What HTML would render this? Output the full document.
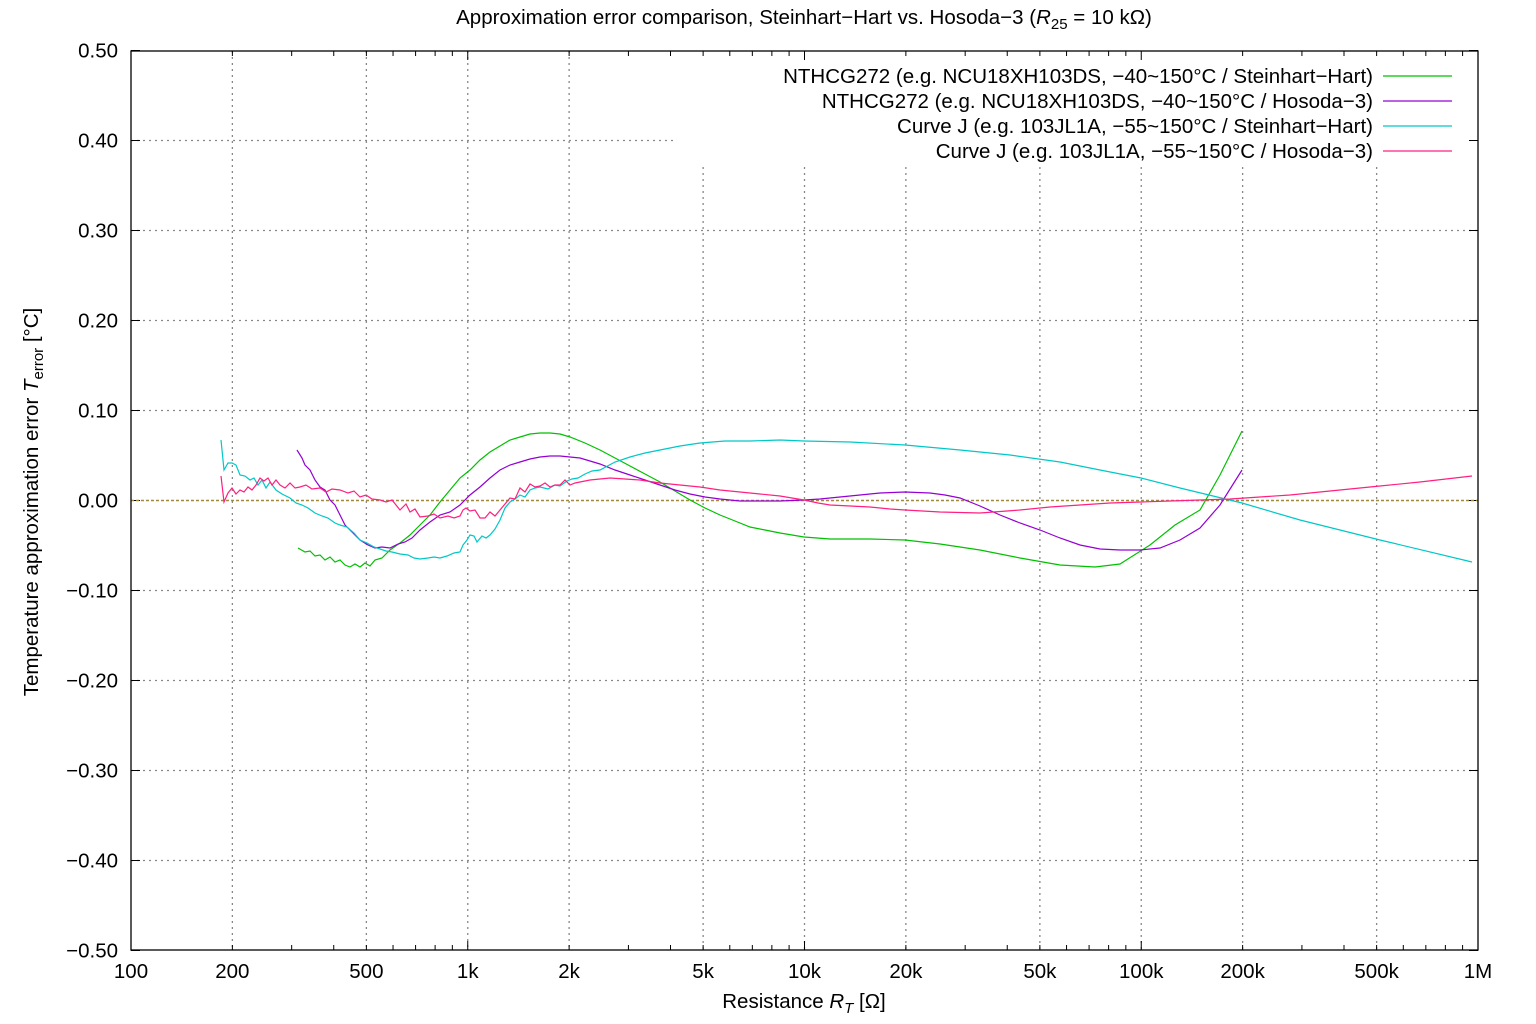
<!DOCTYPE html>
<html><head><meta charset="utf-8"><style>
html,body{margin:0;padding:0;background:#fff;}
svg{display:block;font-family:"Liberation Sans",sans-serif;}
</style></head><body>
<svg id="s" width="1536" height="1024" xmlns="http://www.w3.org/2000/svg">
<rect width="1536" height="1024" fill="#fff"/>
<g id="grid" stroke="#888" stroke-width="1.3" stroke-dasharray="2,4"></g>
<g id="ticks" stroke="#000" stroke-width="1"></g>
<g id="lab" font-size="20.5" fill="#000"></g>
<line x1="131" y1="500.5" x2="1478" y2="500.5" stroke="#a08a40" stroke-width="1.5" stroke-dasharray="3,2"/>
<g fill="none" stroke-width="1.2">
<polyline stroke="#00c000" points="298,548 305,552 310,551 315,556 320,555 325,560 330,557 335,562 340,560 345,565 350,567 355,564 360,567 365,563 370,566 375,560 382,558 390,550 400,543 410,535 420,525 430,515 440,502 450,490 460,478 470,470 480,460 490,452 500,446 510,440 520,437 530,434 540,433 550,433 560,434 570,437 585,443 600,450 615,458 630,466 645,474 660,482 675,491 690,500 705,508 720,515 735,521 750,527 765,530 780,533 804,537 830,539 870,539 905,540 940,544 980,550 1020,558 1060,565 1095,567 1120,564 1150,545 1175,525 1200,510 1220,475 1242,431"/>
<polyline stroke="#9400d3" points="297,450 302,458 305,465 310,470 315,480 320,487 325,490 330,500 335,505 340,515 345,525 352,532 360,540 368,545 375,548 382,547 390,548 398,544 405,542 412,538 420,530 430,522 440,515 450,512 460,505 470,495 480,487 490,478 500,470 510,465 520,462 530,459 540,457 550,456 560,456 570,457 580,458 590,461 600,464 615,470 630,475 645,480 660,485 675,490 690,494 705,497 720,499 740,501 760,501 780,501 804,500 820,499 840,497 860,495 880,493 905,492 930,493 945,495 960,498 980,506 1000,515 1020,523 1040,530 1060,538 1080,545 1100,549 1120,550 1140,550 1160,548 1180,540 1200,528 1220,505 1242,470"/>
<polyline stroke="#00c8c8" points="221,440 224,470 228,463 232,463 236,465 240,475 245,476 250,480 254,478 258,485 262,480 266,488 270,482 276,490 282,494 290,498 296,503 302,505 308,508 315,513 322,516 328,518 335,523 340,525 347,527 354,533 360,540 367,543 374,547 380,549 386,551 392,552 400,554 408,555 414,558 420,559 428,558 434,557 440,558 447,556 454,553 460,552 463,545 467,540 470,535 474,536 477,542 482,536 486,538 490,535 495,529 500,520 505,508 510,502 515,499 520,495 525,497 530,490 535,488 540,487 548,489 555,485 560,486 567,481 572,479 578,478 585,474 592,471 600,470 615,462 630,457 645,453 660,450 680,446 700,443 725,441 750,441 780,440 804,441 850,442 905,445 960,450 1010,455 1060,462 1100,470 1141,478 1180,488 1242,503 1300,520 1380,540 1472,562"/>
<polyline stroke="#ff2080" points="221,476 224,502 228,493 232,488 236,494 240,490 244,492 248,487 252,490 256,485 260,478 264,481 268,478 272,485 276,480 280,485 285,488 290,483 295,488 300,487 306,485 312,489 320,488 326,492 332,489 340,490 348,493 354,491 360,497 366,495 372,499 380,500 386,502 392,500 400,510 406,504 410,512 415,509 420,517 428,516 434,514 440,518 448,516 454,518 460,516 463,510 466,508 470,511 475,510 480,518 485,518 490,512 495,516 500,510 505,504 510,498 515,499 520,488 525,492 530,484 535,487 540,486 545,483 550,487 555,485 560,485 565,480 570,485 575,483 580,482 590,480 600,479 610,478 625,479 640,480 660,483 680,485 700,487 720,490 740,492 760,494 780,496 804,500 818,503 830,505 850,506 870,507 890,509 905,510 940,512 980,513 1020,510 1050,507 1080,505 1110,503 1141,502 1170,501 1200,500 1230,499 1260,497 1290,495 1320,492 1350,489 1380,486 1420,482 1472,476"/>
</g>
<rect x="131" y="51" width="1347" height="899" fill="none" stroke="#000" stroke-width="1.3"/>
<g font-size="20.5" text-anchor="end">
<text x="1373" y="83">NTHCG272 (e.g. NCU18XH103DS, −40~150°C / Steinhart−Hart)</text>
<text x="1373" y="108">NTHCG272 (e.g. NCU18XH103DS, −40~150°C / Hosoda−3)</text>
<text x="1373" y="133">Curve J (e.g. 103JL1A, −55~150°C / Steinhart−Hart)</text>
<text x="1373" y="158">Curve J (e.g. 103JL1A, −55~150°C / Hosoda−3)</text>
</g>
<g stroke-width="1.2">
<line x1="1383" y1="76" x2="1452" y2="76" stroke="#00c000"/>
<line x1="1383" y1="101" x2="1452" y2="101" stroke="#9400d3"/>
<line x1="1383" y1="126" x2="1452" y2="126" stroke="#00c8c8"/>
<line x1="1383" y1="151" x2="1452" y2="151" stroke="#ff2080"/>
</g>
<text x="804" y="24" font-size="20.5" text-anchor="middle">Approximation error comparison, Steinhart−Hart vs. Hosoda−3 (<tspan font-style="italic">R</tspan><tspan font-size="15" dy="5">25</tspan><tspan dy="-5"> = 10 kΩ)</tspan></text>
<text x="804" y="1008" font-size="20.5" text-anchor="middle">Resistance <tspan font-style="italic">R</tspan><tspan font-size="15" dy="5" font-style="italic">T</tspan><tspan dy="-5"> [Ω]</tspan></text>
<text transform="translate(38,502) rotate(-90)" font-size="20.5" text-anchor="middle">Temperature approximation error <tspan font-style="italic">T</tspan><tspan font-size="15" dy="5">error</tspan><tspan dy="-5"> [°C]</tspan></text>
</svg>
<script>
var ns="http://www.w3.org/2000/svg";
function el(p,t,a,txt){var e=document.createElementNS(ns,t);for(var k in a)e.setAttribute(k,a[k]);if(txt!=null)e.textContent=txt;document.getElementById(p).appendChild(e);}
function X(v){return 131+336.75*Math.log10(v/100);}
for(var i=-4;i<=4;i++){var y=500.5-i*90;var x2=(i==4)?677:1478;if(i!=0)el("grid","line",{x1:131,y1:y,x2:x2,y2:y});}
for(var i=-5;i<=5;i++){var y=500.5-i*90;var v=(i/10).toFixed(2);if(i<0)v="−"+(-i/10).toFixed(2);
 el("lab","text",{x:118,y:y+7,"text-anchor":"end"},v);
 el("ticks","line",{x1:131,y1:y,x2:140,y2:y});el("ticks","line",{x1:1469,y1:y,x2:1478,y2:y});}
var gl=[200,500,1000,2000,5000,10000,20000,50000,100000,200000,500000];
gl.forEach(function(v){var x=X(v);el("grid","line",{x1:x,y1:x<677?51:167,x2:x,y2:950});});
var labs={100:"100",200:"200",500:"500",1000:"1k",2000:"2k",5000:"5k",10000:"10k",20000:"20k",50000:"50k",100000:"100k",200000:"200k",500000:"500k",1000000:"1M"};
for(var d=100;d<1e6;d*=10){for(var m=1;m<10;m++){var v=d*m,x=X(v);var L=(m==1)?9:5;
 el("ticks","line",{x1:x,y1:950,x2:x,y2:950-L});el("ticks","line",{x1:x,y1:51,x2:x,y2:51+L});}}
for(var k in labs){el("lab","text",{x:X(+k),y:978,"text-anchor":"middle"},labs[k]);}
</script>
</body></html>
